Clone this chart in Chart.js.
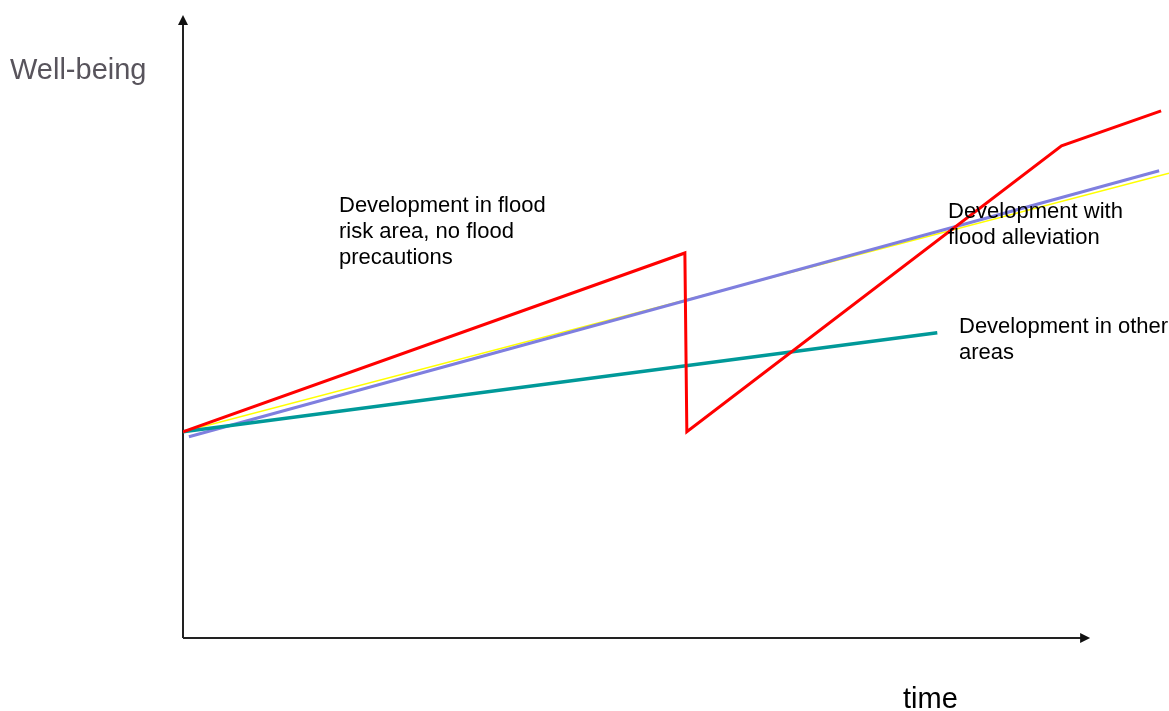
<!DOCTYPE html>
<html>
<head>
<meta charset="utf-8">
<script src="https://cdn.jsdelivr.net/npm/chart.js@4.4.1/dist/chart.umd.min.js"></script>
<style>
  html, body { margin: 0; padding: 0; background: #fff; }
  #wrap { width: 1169px; height: 711px; }
</style>
</head>
<body>
<div id="wrap"><canvas id="wellChart" width="1169" height="711"></canvas></div>
<script>
// time runs 0..100, well-being 0..100 (arbitrary units)
const timeRisk  = [0, 50.9, 51.1, 89.1, 99.2];
const wellRisk  = [33.1, 61.8, 33.1, 79.0, 84.6];
const timeAllev = [0.6, 99.0];
const wellAllev = [32.3, 75.0];
const timeTrend = [0, 100];
const wellTrend = [33.1, 74.6];
const timeOther = [0, 76.5];
const wellOther = [33.1, 49.0];

const xAxisEnd = 92;
const yAxisEnd = 100;

const labels = [
    { lines: ['Development in flood', 'risk area, no flood', 'precautions'], x: 339, y: 212 },
    { lines: ['Development with', 'flood alleviation'], x: 948, y: 218 },
    { lines: ['Development in other', 'areas'], x: 959, y: 333 }
];

function pts(xs, ys) {
    return xs.map((x, i) => ({ x: x, y: ys[i] }));
}

// axes with arrow heads and free text
const decor = {
    id: 'decor',
    beforeDatasetsDraw(chart) {
        const c = chart.ctx;
        const xs = chart.scales.x, ys = chart.scales.y;
        const ox = xs.getPixelForValue(0), oy = ys.getPixelForValue(0);
        const tx = ys.getPixelForValue(yAxisEnd);
        const ex = xs.getPixelForValue(xAxisEnd);
        c.save();
        c.strokeStyle = '#222';
        c.fillStyle = '#111';
        c.lineWidth = 2;
        c.beginPath();
        c.moveTo(ox, oy); c.lineTo(ox, tx + 8);
        c.moveTo(ox, oy); c.lineTo(ex - 8, oy);
        c.stroke();
        c.beginPath();
        c.moveTo(ox, tx); c.lineTo(ox - 5, tx + 10); c.lineTo(ox + 5, tx + 10); c.closePath();
        c.fill();
        c.beginPath();
        c.moveTo(ex, oy); c.lineTo(ex - 10, oy - 5); c.lineTo(ex - 10, oy + 5); c.closePath();
        c.fill();
        c.restore();
    },
    afterDatasetsDraw(chart) {
        const c = chart.ctx;
        c.save();
        c.textBaseline = 'alphabetic';
        c.textAlign = 'left';
        c.font = '29px "Liberation Sans", Arial, sans-serif';
        c.fillStyle = '#58545c';
        c.fillText('Well-being', 10, 79);
        c.fillStyle = '#000';
        c.fillText('time', 903, 708);
        c.font = '22px "Liberation Sans", Arial, sans-serif';
        labels.forEach(l => {
            l.lines.forEach((t, i) => c.fillText(t, l.x, l.y + i * 26));
        });
        c.restore();
    }
};

const ctx = document.getElementById('wellChart').getContext('2d');
new Chart(ctx, {
    type: 'line',
    data: {
        datasets: [
            { label: 'Flood risk, no precautions', data: pts(timeRisk, wellRisk), borderColor: '#ff0000', borderWidth: 3, borderJoinStyle: 'miter', order: 0 },
            { label: 'Other areas', data: pts(timeOther, wellOther), borderColor: '#009999', borderWidth: 3.5, order: 1 },
            { label: 'Flood alleviation', data: pts(timeAllev, wellAllev), borderColor: '#7f7fdf', borderWidth: 3, order: 2 },
            { label: 'Trend', data: pts(timeTrend, wellTrend), borderColor: '#ffff00', borderWidth: 1.5, order: 3 }
        ]
    },
    options: {
        responsive: false,
        animation: false,
        layout: { padding: { left: 183, right: 0, top: 15, bottom: 73 } },
        elements: { point: { radius: 0 }, line: { tension: 0, fill: false } },
        scales: {
            x: { type: 'linear', min: 0, max: 100, display: false },
            y: { type: 'linear', min: 0, max: 100, display: false }
        },
        plugins: { legend: { display: false }, tooltip: { enabled: false } }
    },
    plugins: [decor]
});
</script>
</body>
</html>
